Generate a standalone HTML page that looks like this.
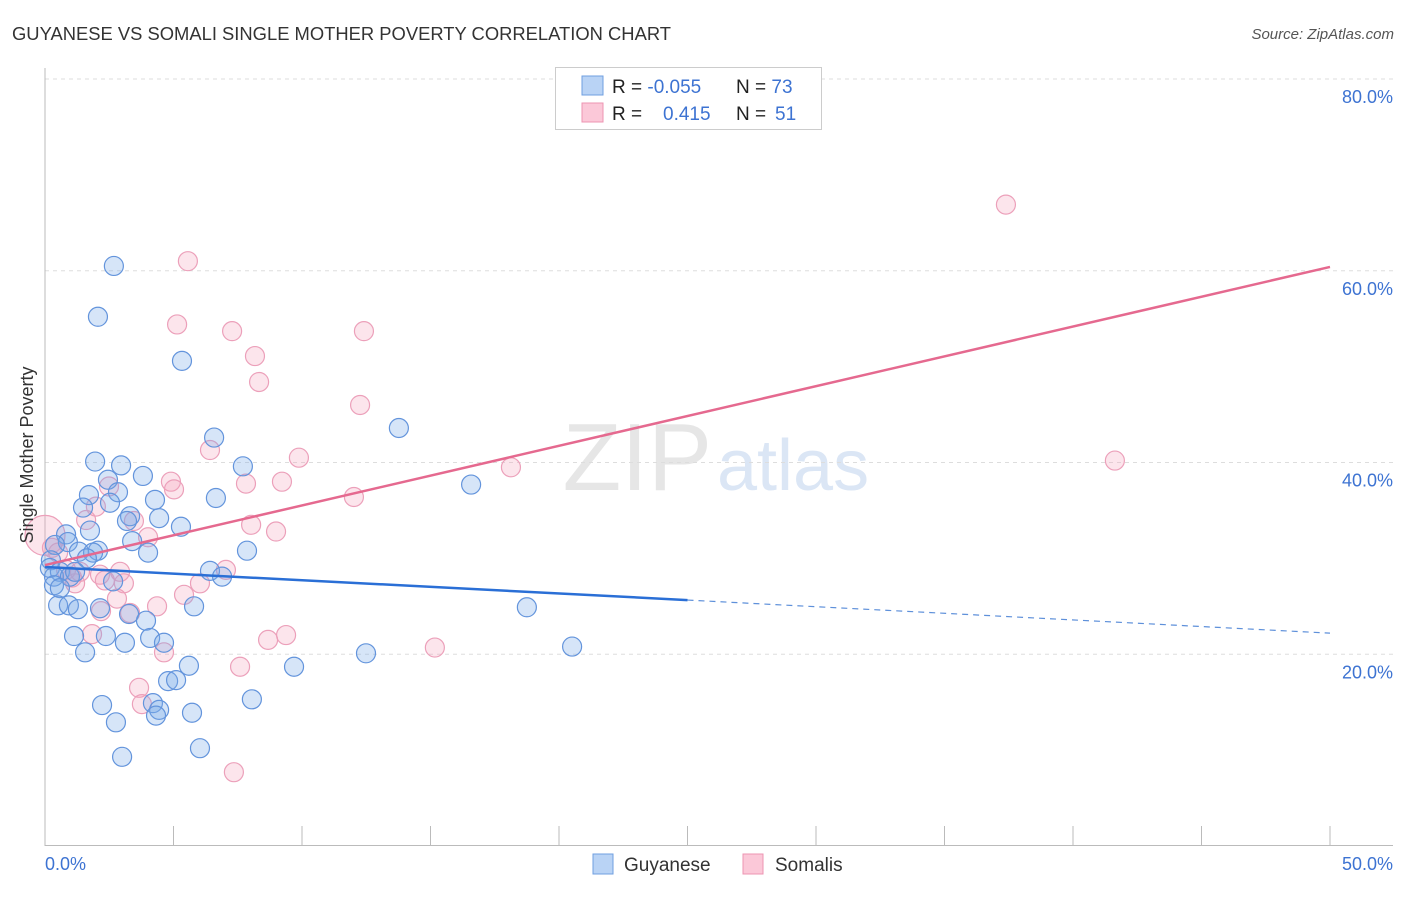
<!DOCTYPE html>
<html><head><meta charset="utf-8"><style>
body{margin:0;background:#fff;font-family:"Liberation Sans",sans-serif;}
svg text{font-family:"Liberation Sans",sans-serif;}
</style></head><body>
<svg id="c" width="1406" height="892">
<text x="12" y="40" font-size="18" fill="#333" textLength="659" lengthAdjust="spacingAndGlyphs">GUYANESE VS SOMALI SINGLE MOTHER POVERTY CORRELATION CHART</text>
<text x="1394" y="39" font-size="15" fill="#555" font-style="italic" text-anchor="end">Source: ZipAtlas.com</text>
<text x="712" y="490" font-size="96" fill="#e6e6e6" font-family="Liberation Serif" text-anchor="end">ZIP</text>
<text x="717" y="490" font-size="72" fill="#dbe6f5">atlas</text>
<g id="grid"></g><g id="pts"></g><g id="lines"></g>
<text x="33" y="455" font-size="18" fill="#333" text-anchor="middle" transform="rotate(-90 33 455)">Single Mother Poverty</text>
<text x="45" y="870" font-size="18" fill="#3d73d2">0.0%</text>
<text x="1393" y="870" font-size="18" fill="#3d73d2" text-anchor="end">50.0%</text>
<g>
<rect x="555.500" y="67.500" width="266" height="62" fill="#fff" stroke="#ccc"/>
<rect x="582" y="76" width="21" height="19" fill="#b9d3f5" stroke="#6f9fe0"/>
<rect x="582" y="103" width="21" height="19" fill="#fbc8d8" stroke="#ec94b2"/>
<text x="612" y="93" font-size="19" fill="#222">R = <tspan fill="#3d73d2">-0.055</tspan><tspan x="736">N = </tspan><tspan fill="#3d73d2">73</tspan></text>
<text x="612" y="120" font-size="19" fill="#222">R = <tspan x="663" fill="#3d73d2">0.415</tspan><tspan x="736">N = </tspan><tspan x="775" fill="#3d73d2">51</tspan></text>
</g>
<g>
<rect x="593" y="854" width="20" height="20" fill="#b9d3f5" stroke="#6f9fe0"/>
<text x="624" y="871" font-size="19" fill="#333">Guyanese</text>
<rect x="743" y="854" width="20" height="20" fill="#fbc8d8" stroke="#ec94b2"/>
<text x="775" y="871" font-size="19" fill="#333">Somalis</text>
</g>
</svg>
<script>
const yTicks=[20,40,60,80];
const yTickLabels=["20.0%","40.0%","60.0%","80.0%"];
const blueX=[2.68,2.06,5.33,13.77,6.58,1.95,2.96,7.70,3.81,16.58,2.45,1.71,2.84,4.28,6.65,2.53,1.48,3.31,4.44,3.19,5.29,0.82,1.75,0.89,3.39,4.01,7.86,1.32,2.06,1.87,0.39,0.23,1.63,0.19,0.58,0.35,0.97,6.42,6.89,2.65,0.35,1.17,0.58,0.51,0.93,1.28,2.14,5.80,18.75,3.27,3.93,4.09,4.63,1.13,2.37,3.11,1.56,12.49,20.51,5.60,9.69,4.79,5.10,8.05,2.22,4.20,4.44,4.32,5.72,2.76,6.03,3.00];
const blueY=[60.5,55.2,50.6,43.6,42.6,40.1,39.7,39.6,38.6,37.7,38.2,36.6,36.9,36.1,36.3,35.8,35.3,34.4,34.2,33.9,33.3,32.5,32.9,31.7,31.8,30.6,30.8,30.7,30.8,30.6,31.4,29.8,30.0,29.0,28.6,28.1,28.1,28.7,28.1,27.6,27.2,28.6,26.9,25.1,25.1,24.7,24.8,25.0,24.9,24.2,23.5,21.7,21.2,21.9,21.9,21.2,20.2,20.1,20.8,18.8,18.7,17.2,17.3,15.3,14.7,14.9,14.2,13.6,13.9,12.9,10.2,9.3];
const pinkX=[37.39,5.56,5.14,7.28,12.41,8.17,8.33,12.26,6.42,9.88,18.13,41.63,4.90,5.02,7.82,9.22,2.49,12.02,1.60,3.46,1.98,8.02,8.99,4.01,0.27,0,0.51,0.82,1.36,2.14,2.92,2.33,1.17,1.05,3.07,6.03,5.41,2.80,4.36,2.18,7.04,3.31,1.83,8.68,9.38,15.17,4.63,7.59,3.66,3.77,7.35];
const pinkY=[66.9,61.0,54.4,53.7,53.7,51.1,48.4,46.0,41.3,40.5,39.5,40.2,38.0,37.2,37.8,38.0,37.5,36.4,34.0,33.9,35.4,33.5,32.8,32.2,31.1,32.4,30.6,28.8,28.6,28.3,28.6,27.7,27.4,28.0,27.4,27.4,26.2,25.8,25.0,24.5,28.8,24.3,22.1,21.5,22.0,20.7,20.2,18.7,16.5,14.8,7.7];
const blueTrend=[29.1,22.2], blueSolidEnd=25;
const pinkTrend=[29.3,60.4];
const X=v=>45+v/50*1285, Y=v=>846-v/20*191.75;
const NS="http://www.w3.org/2000/svg";
function mk(tag,attrs,parent){const e=document.createElementNS(NS,tag);for(const k in attrs)e.setAttribute(k,attrs[k]);parent.appendChild(e);return e;}
const grid=document.getElementById('grid');
yTicks.forEach((t,i)=>{
 const l=mk('line',{x1:45,x2:1393,y1:Y(t),y2:Y(t),stroke:'#ddd','stroke-dasharray':'4,4'},grid);
 
 
 const tx=mk('text',{x:1393,y:Y(t)+24,'font-size':18,fill:'#3d73d2','text-anchor':'end'},grid);
 tx.textContent=yTickLabels[i];
 
 
});
const ax=mk('line',{x1:45,x2:45,y1:68,y2:846,stroke:'#bbb'},grid);


const bx=mk('line',{x1:45,x2:1393,y1:845.5,y2:845.5,stroke:'#bbb'},grid);


for(let v=5;v<=50;v+=5){const t=mk('line',{x1:X(v),x2:X(v),y1:826,y2:846,stroke:'#bbb'},grid);
 
 }
const pts=document.getElementById('pts');
pinkX.forEach((x,i)=>{const c=mk('circle',{cx:X(x),cy:Y(pinkY[i]),r:(x===0?20:9.5),fill:'rgba(244,160,188,0.28)',stroke:'#eca0ba','stroke-width':1.2},pts);
 
 });
blueX.forEach((x,i)=>{const c=mk('circle',{cx:X(x),cy:Y(blueY[i]),r:9.5,fill:'rgba(120,168,232,0.3)',stroke:'#6394dc','stroke-width':1.2},pts);
 
 });
const lines=document.getElementById('lines');
const bAt=v=>blueTrend[0]+(blueTrend[1]-blueTrend[0])*v/50;
const b1=mk('line',{x1:X(0),y1:Y(blueTrend[0]),x2:X(blueSolidEnd),y2:Y(bAt(blueSolidEnd)),stroke:'#2a6fd6','stroke-width':2.5},lines);


const b2=mk('line',{x1:X(blueSolidEnd),y1:Y(bAt(blueSolidEnd)),x2:X(50),y2:Y(blueTrend[1]),stroke:'#5e90da','stroke-width':1.2,'stroke-dasharray':'6,5'},lines);


const p1=mk('line',{x1:X(0),y1:Y(pinkTrend[0]),x2:X(50),y2:Y(pinkTrend[1]),stroke:'#e5698f','stroke-width':2.5},lines);


</script>
</body></html>
